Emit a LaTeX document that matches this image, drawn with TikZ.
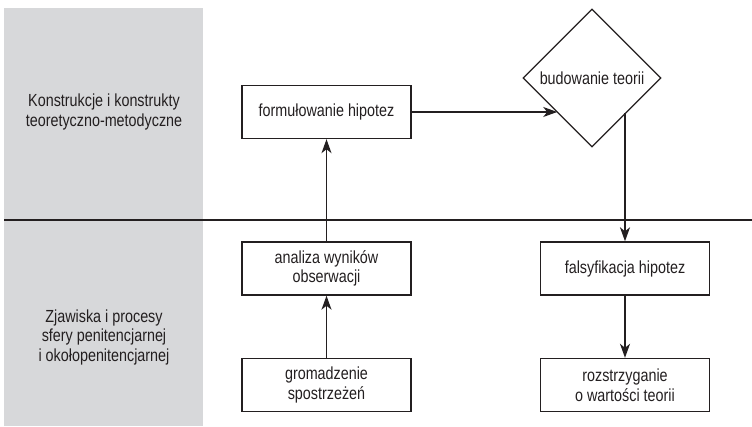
\documentclass[tikz,border=0pt]{standalone}
\usepackage{fontspec}
\setmainfont{Liberation Sans}[FakeStretch=0.82]
\usepackage{tikz}
\usetikzlibrary{positioning,shapes.geometric,arrows.meta}
\definecolor{penpanel}{RGB}{215,216,218}
\definecolor{pentext}{RGB}{35,31,32}

\begin{document}
\begin{tikzpicture}[x=1pt,y=-1pt,
    every node/.style={font=\fontsize{17.5}{19.5}\selectfont,text=pentext},
    stagebox/.style={draw=pentext,line width=1.4pt,minimum width=169pt,minimum height=53pt,align=center,inner sep=2pt},
    stagediam/.style={draw=pentext,diamond,line width=1.2pt,minimum width=138pt,minimum height=138pt,inner sep=0pt},
    flow/.style={draw=pentext,line width=1.3pt,-{Stealth[length=14pt,width=10pt,inset=4pt]}}]
  \useasboundingbox (0,0) rectangle (752,427);
  % --- grey side panel with the two levels ---
  \fill[penpanel] (4,8) rectangle (203,426);
  \node[align=center] (lvlup) at (104,112) {Konstrukcje i konstrukty\\teoretyczno-metodyczne};
  \node[align=center] (lvldown) at (104,337) {Zjawiska i procesy\\sfery penitencjarnej\\i okołopenitencjarnej};
  % --- dividing line ---
  \coordinate (cutL) at (4,220);
  \coordinate (cutR) at (752,220);
  \draw[pentext,line width=2.6pt] (cutL) -- (cutR);
  % --- stages ---
  \node[stagebox] (formul) at (326.5,112) {formułowanie hipotez};
  \node[stagebox] (analiza) at (326.5,268.5) {analiza wyników\\obserwacji};
  \node[stagebox] (gromadz) at (326.5,385) {gromadzenie\\spostrzeżeń};
  \node[stagediam] (teoria) at (592,78) {budowanie teorii};
  \node[stagebox] (falsyf) at (625,268.5) {falsyfikacja hipotez};
  \node[stagebox] (rozstrz) at (625,385) {rozstrzyganie\\o wartości teorii};
  % --- connectors ---
  \draw[flow] (gromadz) -- (analiza);
  \draw[flow] (analiza) -- (formul);
  \draw[flow] (formul.east) -- (formul.east -| teoria.south west);
  \draw[flow] (teoria.south east -| falsyf.north) -- (falsyf.north);
  \draw[flow] (falsyf) -- (rozstrz);
\end{tikzpicture}
\end{document}
